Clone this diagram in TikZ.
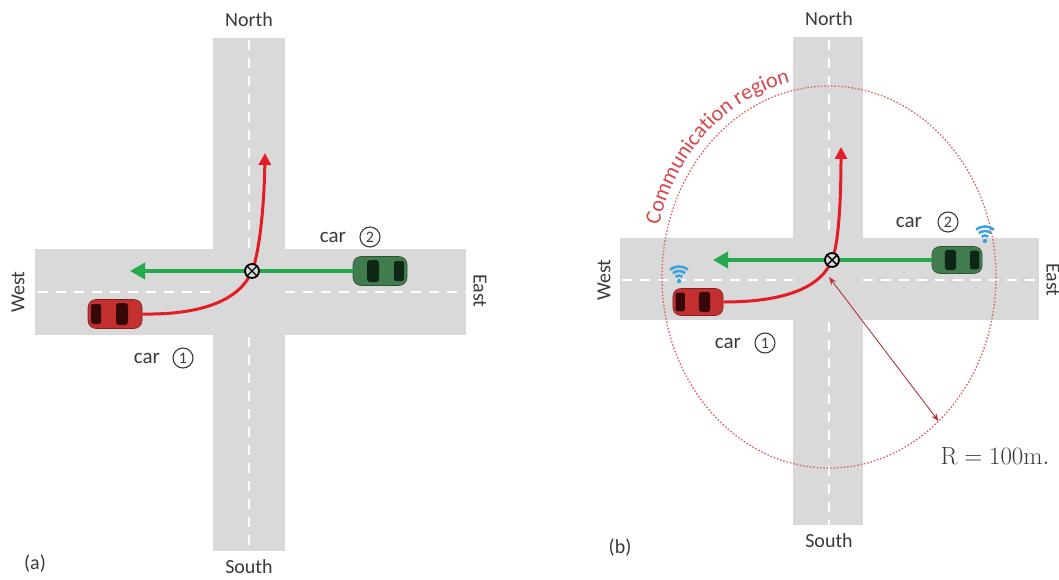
\documentclass[tikz,border=0pt]{standalone}
\usepackage[no-math]{fontspec}
\setmainfont{Carlito}
\usetikzlibrary{arrows.meta,decorations.text}

\definecolor{road}{RGB}{217,217,217}
\definecolor{labeltext}{RGB}{58,58,58}
\definecolor{pathred}{RGB}{226,30,36}
\definecolor{pathgreen}{RGB}{38,168,78}
\definecolor{carred}{RGB}{196,48,48}
\definecolor{carreddark}{RGB}{55,8,8}
\definecolor{cargreen}{RGB}{64,124,78}
\definecolor{cargreendark}{RGB}{14,38,20}
\definecolor{wifiblue}{RGB}{62,162,222}
\definecolor{commred}{RGB}{214,72,78}
\definecolor{radiusred}{RGB}{178,52,58}

\newcommand\commfont{\fontsize{22}{26}\selectfont}

\tikzset{
  % a car seen from above; #1 body, #2 windows, #3 facing (1 right, -1 left), #4 scale
  pics/car/.style n args={4}{code={
    \node[rounded corners=8pt, fill=#1, draw=#2!45!#1, line width=0.6pt,
          minimum width={#4*54pt}, minimum height={#4*29pt}, inner sep=0pt] (-body) at (0,0) {};
    \fill[#2, rounded corners=3pt] ({#3*#4*1},{-#4*11}) rectangle ({#3*#4*13},{#4*11});
    \fill[#2, rounded corners=2pt] ({-#3*#4*24},{-#4*10}) rectangle ({-#3*#4*14},{#4*10});
  }},
  % wireless symbol, origin at its dot
  pics/wifi/.style={code={
    \fill[wifiblue] (0,0) circle (2.2pt);
    \foreach \r in {5.5,10,14.5}
      \draw[wifiblue, line width=2.6pt] (232:\r) arc[start angle=232, end angle=308, radius=\r];
  }}
}

\begin{document}
\begin{tikzpicture}[x=1pt, y=-1pt,
  lbl/.style={font=\fontsize{20}{24}\selectfont, text=labeltext, inner sep=0pt},
  carlbl/.style={font=\fontsize{21}{25}\selectfont, text=labeltext, inner sep=0pt},
  numcircle/.style={circle, draw=labeltext, line width=1.1pt, minimum size=20pt,
                    inner sep=0pt, font=\fontsize{16}{18}\selectfont, text=labeltext},
  centerline/.style={white, line width=2.6pt, dash pattern=on 10pt off 8pt},
  greenarrow/.style={pathgreen, line width=4.5pt, -{Triangle[length=15pt,width=16pt]}},
  redarrow/.style={pathred, line width=3pt, -{Triangle[length=12pt,width=12pt]}},
  crossing/.style={circle, draw=black, line width=1.8pt, fill=road, minimum size=14pt, inner sep=0pt},
  xline/.style={black, line width=1.4pt},
  rangeline/.style={commred!85, line width=1.3pt, dash pattern=on 1.6pt off 1.8pt},
  radiusarrow/.style={radiusred, line width=0.9pt,
                      {Stealth[length=8pt,width=6pt]}-{Stealth[length=8pt,width=6pt]}}
]
\useasboundingbox (0,0) rectangle (1059,580);

% ---------------- (a) ----------------
\fill[road] (213,38) rectangle (285,551);
\fill[road] (35,249) rectangle (466,335);
\draw[centerline] (38,292) -- (213,292);
\draw[centerline] (285,292) -- (466,292);
\draw[centerline] (249,40) -- (249,249);
\draw[centerline] (249,337) -- (249,551);

\pic (car1a) at (115,314) {car={carred}{carreddark}{1}{1}};
\pic (car2a) at (380,271) {car={cargreen}{cargreendark}{-1}{1}};

\coordinate (xa) at (252,271);
\coordinate (ga) at (130,271);
\coordinate (ra) at (265,153);
\draw[greenarrow] (car2a-body.west) -- (ga);
\draw[redarrow] (car1a-body.east) .. controls (202,315) and (240,300) .. (xa)
                .. controls (258,257) and (264,215) .. (ra);
\node[crossing] (xsa) at (xa) {};
\draw[xline] (xsa.45) -- (xsa.225) (xsa.135) -- (xsa.315);

\node[lbl] (northa) at (249,20) {North};
\node[lbl] (southa) at (249,567) {South};
\node[lbl, rotate=90] (westa) at (18,292) {West};
\node[lbl, rotate=-90] (easta) at (480,291) {East};
\node[lbl] (capa) at (35,564) {(a)};
\node[carlbl] (car1alab) at (147,358) {car};
\node[numcircle] (car1anum) at (183,358) {1};
\node[carlbl] (car2alab) at (333,237) {car};
\node[numcircle] (car2anum) at (370,237) {2};

% ---------------- (b) ----------------
\fill[road] (793,37) rectangle (863,525);
\fill[road] (620,238) rectangle (1039,320);
\draw[centerline] (622,280) -- (793,280);
\draw[centerline] (863,280) -- (1039,280);
\draw[centerline] (829,40) -- (829,238);
\draw[centerline] (829,322) -- (829,525);

\coordinate (rc) at (829,277);
\draw[rangeline] (rc) ellipse [x radius=167, y radius=191];
\path[decorate, decoration={text along path, text align=center, text color=commred,
      text={|\commfont|Communication region}}]
  ([shift={(189:176 and 200)}]rc) arc[start angle=189, end angle=264, x radius=176, y radius=200];

\pic (car1b) at (698,302) {car={carred}{carreddark}{1}{0.93}};
\pic (car2b) at (957,260) {car={cargreen}{cargreendark}{-1}{0.93}};
\pic at (679,281) {wifi};
\pic at (985,241) {wifi};

\coordinate (xb) at (832,260);
\coordinate (gb) at (713,260);
\coordinate (rb) at (841,147);
\coordinate (re) at ([shift={(49:167 and 191)}]rc);
\draw[radiusarrow] (rc) -- (re);
\draw[greenarrow] (car2b-body.west) -- (gb);
\draw[redarrow] (car1b-body.east) .. controls (790,302) and (822,285) .. (xb)
                .. controls (838,246) and (841,205) .. (rb);
\node[crossing] (xsb) at (xb) {};
\draw[xline] (xsb.45) -- (xsb.225) (xsb.135) -- (xsb.315);

\node[lbl] (northb) at (829,19) {North};
\node[lbl] (southb) at (829,541) {South};
\node[lbl, rotate=90] (westb) at (604,280) {West};
\node[lbl, rotate=-90] (eastb) at (1053,280) {East};
\node[lbl] (capb) at (620,548) {(b)};
\node[carlbl] (car1blab) at (728,343) {car};
\node[numcircle] (car1bnum) at (765,343) {1};
\node[carlbl] (car2blab) at (909,222) {car};
\node[numcircle] (car2bnum) at (948,222) {2};
\node[inner sep=0pt, text=labeltext, font=\fontsize{25}{30}\selectfont] (rlab) at (995,456)
  {$\mathrm{R} = 100\mathrm{m}.$};
\end{tikzpicture}
\end{document}
